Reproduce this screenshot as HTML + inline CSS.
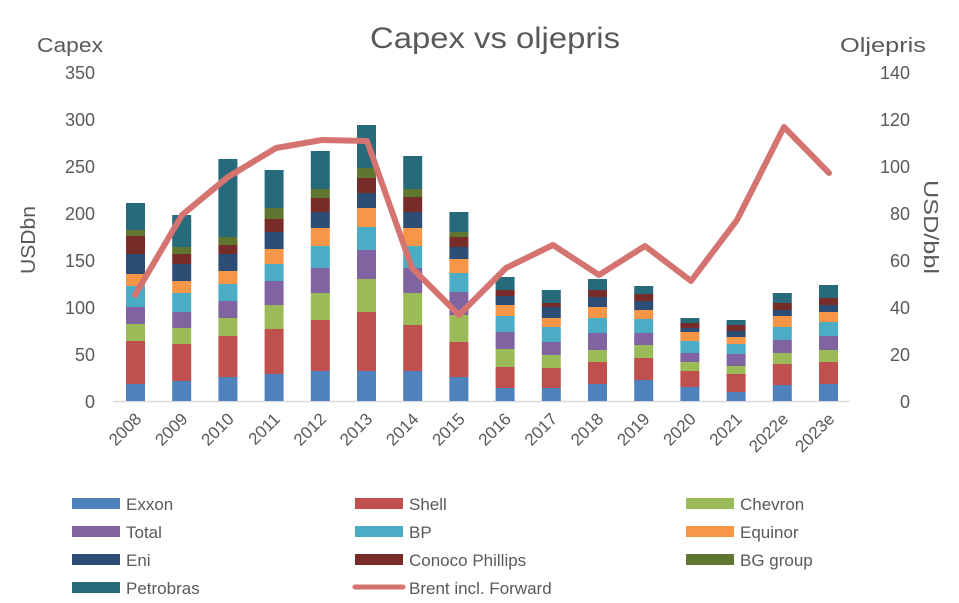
<!DOCTYPE html>
<html><head><meta charset="utf-8"><style>
html,body{margin:0;padding:0;background:#fff;}
svg{display:block;}
text{font-family:"Liberation Sans",sans-serif;fill:#595959;}
</style></head><body>
<svg width="959" height="603" viewBox="0 0 959 603">
<text x="495" y="48" font-size="30" text-anchor="middle" textLength="250" lengthAdjust="spacingAndGlyphs">Capex vs oljepris</text>
<text x="37" y="52" font-size="20" textLength="66" lengthAdjust="spacingAndGlyphs">Capex</text>
<text x="840" y="52" font-size="20" textLength="86" lengthAdjust="spacingAndGlyphs">Oljepris</text>
<g font-size="18" text-anchor="end">
<text x="95" y="79">350</text><text x="95" y="126">300</text><text x="95" y="173">250</text><text x="95" y="220">200</text><text x="95" y="267">150</text><text x="95" y="314">100</text><text x="95" y="361">50</text><text x="95" y="408">0</text>
</g>
<g font-size="18" text-anchor="end">
<text x="910" y="79">140</text><text x="910" y="126">120</text><text x="910" y="173">100</text><text x="910" y="220">80</text><text x="910" y="267">60</text><text x="910" y="314">40</text><text x="910" y="361">20</text><text x="910" y="408">0</text>
</g>
<text transform="translate(35,240) rotate(-90)" font-size="20" text-anchor="middle" textLength="68" lengthAdjust="spacingAndGlyphs">USDbn</text>
<text transform="translate(924,227) rotate(90)" font-size="20" text-anchor="middle" textLength="94" lengthAdjust="spacingAndGlyphs">USD/bbl</text>
<line x1="113" y1="401.5" x2="850" y2="401.5" stroke="#d9d9d9" stroke-width="1.5"/>
<g id="bars"></g>
<polyline fill="none" stroke="#d47370" stroke-width="6" stroke-linejoin="round" stroke-linecap="round" points="135,295 182,215 228,177 276,148 322,140 367,141 412,268 459,315 506,268 553,245 599,275 645,246 691,281 737,220 784,127 829,173"/>
<g id="xl" font-size="17" text-anchor="end"></g>
<g font-size="17">
<rect x="72" y="498" width="48" height="11" fill="#4f81bd"/><text x="126" y="510">Exxon</text>
<rect x="355" y="498" width="48" height="11" fill="#c0504d"/><text x="409" y="510">Shell</text>
<rect x="686" y="498" width="48" height="11" fill="#9bbb59"/><text x="740" y="510">Chevron</text>
<rect x="72" y="526" width="48" height="11" fill="#8064a2"/><text x="126" y="538">Total</text>
<rect x="355" y="526" width="48" height="11" fill="#4bacc6"/><text x="409" y="538">BP</text>
<rect x="686" y="526" width="48" height="11" fill="#f79646"/><text x="740" y="538">Equinor</text>
<rect x="72" y="554" width="48" height="11" fill="#2c4d75"/><text x="126" y="566">Eni</text>
<rect x="355" y="554" width="48" height="11" fill="#772c2a"/><text x="409" y="566">Conoco Phillips</text>
<rect x="686" y="554" width="48" height="11" fill="#5f7530"/><text x="740" y="566">BG group</text>
<rect x="72" y="582" width="48" height="11" fill="#276a7c"/><text x="126" y="594">Petrobras</text>
<line x1="355" y1="587" x2="403" y2="587" stroke="#d47370" stroke-width="5" stroke-linecap="round"/><text x="409" y="594">Brent incl. Forward</text>
</g>
</svg>
<script>
var cols=["#4f81bd","#c0504d","#9bbb59","#8064a2","#4bacc6","#f79646","#2c4d75","#772c2a","#5f7530","#276a7c"];
var tops=[
[384,341,324,307,286,274,254,236,230,203],
[381,344,328,312,293,281,264,254,247,215],
[377,336,318,301,284,271,254,245,237,159],
[374,329,305,281,264,249,232,219,208,170],
[371,320,293,268,246,228,212,198,189,151],
[371,312,279,250,227,208,193,178,168,125],
[371,325,293,268,246,228,212,197,189,156],
[377,342,315,292,273,259,247,237,232,212],
[388,367,349,332,316,305,296,290,290,277],
[388,368,355,342,327,318,307,303,303,290],
[384,362,350,333,318,307,297,290,290,279],
[380,358,345,333,319,310,301,294,294,286],
[387,371,362,353,341,332,328,323,323,318],
[392,374,366,354,344,337,331,325,325,320],
[385,364,353,340,327,316,310,303,303,293],
[384,362,350,336,322,312,305,298,298,285]];
var labs=["2008","2009","2010","2011","2012","2013","2014","2015","2016","2017","2018","2019","2020","2021","2022e","2023e"];
var ns="http://www.w3.org/2000/svg",g=document.getElementById("bars"),xl=document.getElementById("xl");
for(var i=0;i<16;i++){var cx=135.5+i*46.2,prev=401;
for(var j=0;j<10;j++){var t=tops[i][j];if(prev-t>0){var r=document.createElementNS(ns,"rect");
r.setAttribute("x",cx-9.5);r.setAttribute("y",t);r.setAttribute("width",19);r.setAttribute("height",prev-t);r.setAttribute("fill",cols[j]);g.appendChild(r);}prev=t;}
var tx=document.createElementNS(ns,"text");tx.setAttribute("transform","translate("+(cx+7)+",420) rotate(-45)");tx.textContent=labs[i];xl.appendChild(tx);}
</script>
</body></html>
